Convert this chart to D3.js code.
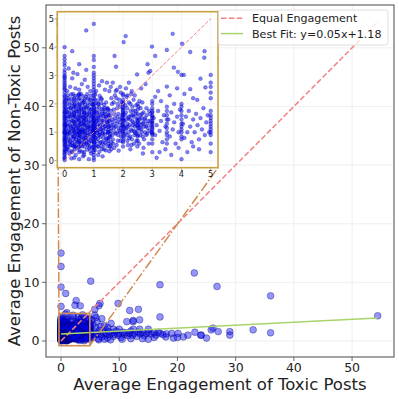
<!DOCTYPE html>
<html><head><meta charset="utf-8">
<script src="https://cdn.jsdelivr.net/npm/d3@7"></script>
<style>body{margin:0;background:#fff}svg{display:block}text{font-family:"DejaVu Sans",sans-serif;fill:#222}</style>
</head><body><svg id="c" width="399" height="399"></svg>
<script>
// ---- data (avg engagement: toxic x, non-toxic y) ----
const stripeX = [0, 0.33, 0.5, 0.67, 1, 1.5, 2, 2.5, 3, 3.5, 4, 5];
const stripeY = [
  [0.02,0.08,0.12,0.2,0.25,0.31,0.36,0.42,0.5,0.55,0.6,0.67,0.71,0.75,0.8,0.83,0.9,0.95,1,1,1.05,1.1,1.15,1.2,1.25,1.3,1.33,1.4,1.45,1.5,1.55,1.6,1.67,1.7,1.75,1.8,1.88,1.93,2,2.05,2.1,2.17,2.25,2.3,2.4,2.5,2.55,2.62,2.68,2.75,2.82,2.9,2.95,3.0,3.1,3.2,3.35,3.45,3.57,3.69,4.0,5.9,9.2,12.7,15.0],
  [0.1,0.5,0.85,1.0,1.2,1.35,1.55,1.7,1.95,2.2],
  [0.05,0.3,0.5,0.7,0.9,1.0,1.1,1.25,1.4,1.5,1.6,1.75,1.9,2.0,2.2,2.35,2.5,3.4],
  [0.2,0.6,0.9,1.05,1.3,1.5,1.67,1.85,2.1],
  [0.02,0.1,0.2,0.3,0.38,0.45,0.5,0.58,0.65,0.7,0.8,0.86,0.92,1,1,1.07,1.13,1.2,1.25,1.33,1.4,1.47,1.5,1.6,1.67,1.75,1.8,1.9,2,2.1,2.2,2.3,2.4,2.5,2.6,2.7,2.8,2.9,3.0,3.1,3.3,3.55,3.69,4.82],
  [0.6,0.8,1.0,1.2,1.4,1.6,1.8],
  [0.5,0.7,0.85,0.95,1,1.1,1.2,1.25,1.3,1.4,1.45,1.5,1.6,1.65,1.7,1.8,1.85,1.9,2.0,2.05,2.15,2.3],
  [0.7,0.9,1.05,1.2,1.35,1.5,1.65,1.8,2.0],
  [0.3,0.6,0.75,0.9,0.95,1.0,1.1,1.15,1.2,1.3,1.35,1.4,1.5,1.55,1.6,1.7,1.75,1.85,2.0,2.1],
  [0.6,0.75,0.9,1.0,1.15,1.3,1.45,1.6,1.75,1.9],
  [0.05,0.75,0.85,1.0,1.1,1.2,1.3,1.45,1.6,1.75,1.9,2.0,3.02],
  [0.3,0.6,0.9,1.0,1.1,1.2,1.3,1.4,1.5,1.6,1.75,2.2,2.4,2.6,2.75,3.02]
];
const cloudPts = [
  [0.08,0.42],[0.12,0.95],[0.15,1.55],[0.18,0.7],[0.2,1.2],[0.22,1.85],[0.25,0.3],[0.27,1.4],[0.3,0.85],[0.31,2.1],[0.33,1.05],[0.33,1.6],[0.33,0.55],[0.36,1.3],[0.38,0.2],[0.4,1.75],[0.42,0.95],[0.44,1.15],[0.45,2.3],[0.47,0.65],[0.1,1.7],[0.13,2.2],[0.17,1.02],[0.21,0.55],[0.24,1.62],[0.28,1.12],[0.35,1.9],[0.39,0.75],[0.43,1.45],[0.48,1.0],[0.06,1.25],[0.09,2.45],[0.19,2.6],[0.26,2.9],[0.3,3.1],[0.14,3.25],[0.37,2.55],[0.41,0.45],[0.23,0.08],[0.16,0.25],[0.44,3.05],[0.29,2.35],[0.26,3.86],
  [0.53,0.85],[0.55,1.3],[0.57,1.8],[0.6,0.5],[0.6,1.1],[0.62,1.55],[0.64,2.05],[0.66,0.75],[0.67,1.25],[0.67,1.7],[0.67,0.3],[0.7,1.0],[0.72,1.45],[0.73,2.25],[0.75,0.6],[0.77,1.15],[0.78,1.9],[0.8,0.9],[0.82,1.35],[0.84,0.45],[0.85,1.65],[0.87,1.05],[0.88,2.45],[0.9,0.7],[0.92,1.2],[0.94,1.55],[0.95,2.0],[0.97,0.95],[0.98,1.4],[0.56,2.35],[0.59,2.7],[0.63,0.15],[0.69,2.85],[0.74,3.2],[0.79,2.6],[0.83,0.05],[0.86,2.15],[0.91,0.25],[0.58,1.0],[0.71,0.8],[0.76,1.6],[0.81,1.2],[0.89,1.8],[0.96,1.1],[0.65,1.4],[0.54,0.6],[0.74,4.59],[0.8,8.1],
  [1.03,1.3],[1.05,0.8],[1.07,1.7],[1.1,1.05],[1.12,0.5],[1.13,1.5],[1.15,2.0],[1.17,0.9],[1.2,1.25],[1.22,1.6],[1.24,0.65],[1.25,2.2],[1.27,1.1],[1.3,1.4],[1.32,0.95],[1.33,1.8],[1.35,0.4],[1.37,1.2],[1.4,1.55],[1.42,2.05],[1.44,0.75],[1.46,1.35],[1.48,1.0],[1.08,2.45],[1.18,2.65],[1.28,2.8],[1.38,2.5],[1.45,2.75],[1.15,0.2],[1.3,0.15],[1.06,1.15],[1.21,1.0],[1.34,1.65],[1.47,1.85],[1.12,1.4],
  [1.52,1.2],[1.55,0.85],[1.57,1.6],[1.6,1.05],[1.62,2.0],[1.64,1.35],[1.66,0.6],[1.68,1.8],[1.7,1.15],[1.72,1.5],[1.75,0.95],[1.77,2.2],[1.8,1.3],[1.82,0.7],[1.84,1.65],[1.86,1.05],[1.88,1.45],[1.9,1.9],[1.93,0.85],[1.95,1.25],[1.97,1.6],[1.58,2.6],[1.65,2.75],[1.71,3.69],[1.76,3.31],[1.79,2.5],[1.85,0.35],[1.92,2.4],[1.6,0.4],[1.73,1.0],
  [2.04,1.4],[2.07,0.95],[2.1,1.7],[2.12,1.15],[2.15,0.7],[2.18,1.5],[2.2,2.05],[2.22,1.25],[2.25,0.85],[2.28,1.6],[2.3,1.05],[2.32,1.9],[2.35,1.35],[2.38,0.6],[2.4,1.2],[2.42,1.75],[2.45,0.95],[2.47,1.45],[2.1,2.55],[2.2,2.75],[2.3,2.45],[2.4,2.3],[2.25,0.4],[2.02,4.18],[2.09,4.39],[2.15,2.3],[2.37,1.55],[2.4,6.1],
  [2.55,1.3],[2.58,0.9],[2.6,1.6],[2.63,1.1],[2.66,2.05],[2.7,1.35],[2.72,0.75],[2.75,1.5],[2.78,1.2],[2.8,1.85],[2.83,0.95],[2.86,1.4],[2.9,1.05],[2.93,1.65],[2.96,1.25],[2.62,2.55],[2.7,0.45],[2.84,3.4],[2.93,3.16],[2.87,3.1],[2.48,3.04],[2.77,2.7],[2.68,0.25],[2.88,0.6],[2.6,6.9],
  [3.05,1.5],[3.1,0.9],[3.15,1.25],[3.2,1.75],[3.25,1.05],[3.3,1.4],[3.35,0.65],[3.4,1.6],[3.45,1.2],[3.55,1.45],[3.6,0.85],[3.65,1.7],[3.7,1.1],[3.75,1.35],[3.8,0.6],[3.85,1.55],[3.9,1.0],[3.95,1.8],[3.1,2.25],[3.2,2.45],[3.3,2.1],[3.6,2.3],[3.75,2.0],[3.85,2.55],[3.1,3.69],[2.99,4.02],[3.5,3.9],[3.7,4.47],[3.74,3.28],[3.88,3.13],[3.5,2.61],[3.25,0.3],[3.45,0.4],[3.65,0.2],[3.15,0.1],[3.9,0.45],[3.3,6.0],
  [4.05,1.3],[4.1,0.8],[4.15,1.55],[4.2,1.0],[4.25,1.75],[4.3,1.2],[4.35,0.65],[4.4,1.45],[4.45,1.0],[4.5,1.65],[4.55,1.25],[4.6,0.75],[4.65,1.5],[4.7,1.1],[4.75,1.85],[4.8,0.9],[4.85,1.35],[4.9,1.6],[4.95,1.0],[4.02,4.12],[4.3,3.83],[4.79,3.86],[4.78,3.63],[4.08,3.02],[4.65,2.89],[4.3,2.52],[4.54,2.14],[4.82,2.58],[4.4,2.2],[4.1,2.35],[4.6,0.4],[4.4,0.5],[4.2,0.3]
];
const denseCorePts = [
  [0.05,0.35],[0.14,0.38],[0.27,0.33],[0.36,0.4],[0.52,0.36],[0.61,0.31],[0.77,0.39],[0.88,0.34],[1.04,0.37],[1.19,0.32],[1.28,0.41],[1.41,0.36],[1.53,0.33],
  [0.04,0.52],[0.11,0.48],[0.19,0.55],[0.29,0.5],[0.38,0.53],[0.47,0.47],[0.56,0.54],[0.69,0.49],[0.79,0.56],[0.87,0.5],[0.95,0.47],[1.07,0.55],[1.16,0.49],[1.26,0.52],[1.36,0.56],[1.49,0.5],[1.58,0.53],
  [0.03,0.66],[0.1,0.63],[0.2,0.68],[0.26,0.62],[0.34,0.67],[0.44,0.64],[0.51,0.69],[0.59,0.63],[0.68,0.66],[0.76,0.7],[0.83,0.62],[0.93,0.68],[1.02,0.64],[1.1,0.69],[1.21,0.62],[1.31,0.67],[1.39,0.63],[1.5,0.69],[1.6,0.65],
  [0.06,0.8],[0.13,0.77],[0.22,0.83],[0.3,0.78],[0.4,0.82],[0.49,0.79],[0.57,0.84],[0.63,0.78],[0.73,0.81],[0.81,0.76],[0.89,0.83],[0.96,0.79],[1.06,0.82],[1.14,0.77],[1.23,0.84],[1.33,0.8],[1.43,0.78],[1.54,0.83],
  [0.04,0.95],[0.11,0.92],[0.18,0.98],[0.27,0.93],[0.35,0.97],[0.45,0.91],[0.53,0.96],[0.61,0.99],[0.7,0.93],[0.78,0.97],[0.86,0.92],[0.94,0.98],[1.03,0.94],[1.12,0.98],[1.19,0.91],[1.29,0.96],[1.38,0.92],[1.47,0.98],[1.57,0.94],
  [0.05,1.1],[0.14,1.07],[0.21,1.12],[0.3,1.08],[0.39,1.13],[0.46,1.06],[0.55,1.11],[0.63,1.07],[0.72,1.13],[0.8,1.08],[0.88,1.12],[0.97,1.06],[1.05,1.11],[1.14,1.08],[1.23,1.13],[1.32,1.07],[1.41,1.12],[1.5,1.08],[1.59,1.13],
  [0.03,1.25],[0.12,1.22],[0.19,1.27],[0.28,1.23],[0.37,1.28],[0.45,1.21],[0.54,1.26],[0.62,1.22],[0.71,1.28],[0.79,1.24],[0.87,1.21],[0.96,1.27],[1.04,1.23],[1.13,1.28],[1.22,1.21],[1.31,1.26],[1.39,1.22],[1.49,1.28],[1.58,1.24],
  [0.06,1.4],[0.15,1.37],[0.23,1.42],[0.31,1.38],[0.4,1.43],[0.49,1.36],[0.57,1.41],[0.65,1.37],[0.74,1.43],[0.83,1.39],[0.91,1.36],[0.99,1.42],[1.08,1.38],[1.17,1.43],[1.26,1.36],[1.35,1.41],[1.44,1.37],[1.53,1.42],
  [0.04,1.55],[0.12,1.52],[0.2,1.57],[0.29,1.53],[0.38,1.58],[0.47,1.51],[0.56,1.56],[0.64,1.52],[0.73,1.58],[0.81,1.54],[0.9,1.51],[0.98,1.57],[1.07,1.53],[1.16,1.58],[1.24,1.51],[1.34,1.56],[1.43,1.52],[1.52,1.57],
  [0.07,1.7],[0.16,1.67],[0.24,1.72],[0.33,1.68],[0.42,1.73],[0.5,1.66],[0.59,1.71],[0.68,1.67],[0.76,1.73],[0.85,1.69],[0.93,1.66],[1.02,1.72],[1.11,1.68],[1.2,1.73],[1.29,1.66],[1.38,1.71],[1.47,1.67],
  [0.05,1.85],[0.13,1.82],[0.21,1.87],[0.3,1.83],[0.39,1.88],[0.48,1.81],[0.57,1.86],[0.66,1.82],[0.74,1.88],[0.83,1.84],[0.92,1.81],[1.01,1.87],[1.1,1.83],[1.19,1.88],[1.28,1.81],[1.37,1.86],[1.46,1.82],
  [0.08,2.0],[0.17,1.97],[0.25,2.02],[0.34,1.98],[0.43,2.03],[0.52,1.96],[0.61,2.01],[0.7,1.97],[0.79,2.03],[0.88,1.99],[0.97,1.96],[1.06,2.02],[1.16,1.98],[1.26,2.03],[1.35,1.96],
  [0.06,2.15],[0.15,2.12],[0.24,2.18],[0.36,2.13],[0.47,2.17],[0.58,2.12],[0.69,2.16],[0.8,2.19],[0.91,2.13],[1.03,2.17],[1.14,2.12],[1.27,2.16],
  [0.1,2.3],[0.22,2.33],[0.35,2.28],[0.5,2.32],[0.63,2.27],[0.77,2.34],[0.9,2.29],[1.05,2.33],[1.2,2.28]
];
const midCloudPts = [
  [1.65,0.75],[1.74,1.2],[1.83,0.9],[1.9,1.35],[1.98,1.05],[1.7,1.65],[1.8,1.85],[1.95,1.5],[2.05,1.2],[2.13,0.9],[2.2,1.55],[2.27,1.1],[2.35,1.75],[2.43,1.3],[2.5,0.85],[2.57,1.45],[2.64,1.0],[2.7,1.7],[1.68,2.05],[1.87,2.15],[2.08,1.95],[2.25,2.0],[2.45,1.95],[2.6,1.85],[1.78,0.55],[2.0,0.65],[2.3,0.75],[2.55,0.6],[2.15,1.3],[2.38,1.05],[1.62,1.45],[1.93,1.15],[2.11,1.45],[2.33,1.25],[2.52,1.15],[2.68,1.3],
  [1.55,0.5],[1.63,0.9],[1.7,0.45],[1.76,1.4],[1.85,1.15],[1.91,0.7],[1.99,1.75],[2.03,0.8],[2.08,1.1],[2.14,1.85],[2.19,1.0],[2.24,1.45],[2.29,0.55],[2.34,1.6],[2.39,0.9],[2.44,1.65],[2.49,1.25],[2.53,1.9],[2.58,1.15],[2.63,1.5],[2.67,0.85],[2.72,1.2],[2.76,1.0],[2.81,1.6],[2.85,1.15],[1.58,1.75],[1.67,1.25],[1.72,2.3],[1.81,1.55],[1.89,1.0],[1.96,2.05],[2.06,1.6],[2.16,1.2],[2.21,0.8],[2.26,1.75],[2.31,1.4],[2.36,2.15],[2.41,1.0],[2.46,0.7],[2.51,1.4],[2.56,2.1],[2.61,1.25],[2.65,1.65],[2.74,1.45],[2.79,0.9],[2.83,1.3],[2.89,1.75],[2.94,1.4],[2.98,1.0],[1.6,2.2],[1.75,2.45],[1.9,2.6],[2.12,2.25],[2.28,2.35],[1.53,2.45],[1.82,2.0],[2.0,2.35],[2.17,0.55],[2.49,0.5]
];
const bandPts = [
  [5.3,1.2],[5.5,0.6],[5.7,1.6],[5.9,1.0],[6.0,2.2],[6.2,1.3],[6.4,0.4],[6.6,1.8],[6.8,1.1],[7.0,0.7],[7.2,1.5],[7.4,2.6],[7.6,1.0],[7.8,1.3],[8.0,0.5],[8.2,1.6],[8.4,1.1],[8.6,3.0],[8.8,1.4],[9.0,0.8],[9.2,1.2],[9.5,1.7],[9.8,1.0],[10.0,1.3],[10.3,0.6],[10.6,1.5],[10.9,1.1],[11.2,1.4],[11.5,0.9],[11.8,1.3],[12.0,1.7],[12.3,1.0],[12.6,1.3],[13.0,0.8],[13.3,1.5],[13.6,1.2],[14.0,1.4],[14.3,0.9],[14.7,1.3],[15.0,1.5],[15.0,0.3],[15.5,1.2],[16.0,1.4],[16.3,1.0],[16.7,1.5],[17.0,1.3],[17.5,1.1],[18.1,1.2],[19.0,1.3],[19.3,0.5],[20.1,1.3],[21.0,0.7],[21.8,1.0],[23.0,1.5],[24.1,1.0],[24.0,1.0],[25.0,0.5],[25.8,1.9],[26.1,2.2],[27.0,1.6],[29.0,1.6],[29.0,1.0],[33.0,1.9],[36.0,1.4],
  [5.5,2.8],[6.2,3.3],[7.0,3.8],[7.6,2.0],[6.8,2.5],[8.0,2.3],[5.3,3.6],[6.0,4.0],[9.0,2.0],[10.0,2.0],[12.4,2.0],[13.5,2.0],[15.0,2.0],[11.3,3.3],[12.4,3.5],[6.5,0.2],[7.5,0.3],[8.5,0.2],[10.5,0.3],[12.0,0.4],[14.0,0.4],[16.0,0.6],[18.0,0.7],[20.0,0.6]
];
const outlierPts = [
  [5.1,10.2],[6.5,6.0],[6.7,6.4],[5.8,5.4],[5.8,4.4],[9.8,6.4],[11.8,5.2],[13.3,5.4],[17.0,9.6],[17.0,4.1],[22.9,11.6],[26.8,9.3],[36.0,7.7],[54.4,4.3],[12.4,3.3],[13.5,3.6]
];
const fitSlope = 0.05, fitIntercept = 1.18;
const fitRange = [0, 54.4];
const equalRange = [0, 54.6];
const insetEqualRange = [0, 5];
const zoomBox = [-0.35, 4.95, -0.8, 4.7]; // x0,x1,y0,y1
const mainTicks = [0, 10, 20, 30, 40, 50];
const insetTicks = [0, 1, 2, 3, 4, 5];
const legendLabels = ["Equal Engagement", "Best Fit: y=0.05x+1.18"];
const xLabel = "Average Engagement of Toxic Posts";
const yLabel = "Average Engagement of Non-Toxic Posts";

// ---- build table ----
const pts = [];
stripeX.forEach((sx, i) => stripeY[i].forEach(v => pts.push([sx, v])));
cloudPts.concat(denseCorePts, midCloudPts, bandPts, outlierPts).forEach(p => pts.push(p));

const svg = d3.select("#c");
const x = d3.scaleLinear().domain([-2.58, 57.2]).range([46, 394]);
const y = d3.scaleLinear().domain([-2.73, 57.3]).range([357, 5]);
const RED = "#f48080", GREEN = "#a9d46c", BROWN = "#cf8c4f", GOLD = "#c9a040";

// main grid
const g = svg.append("g");
g.selectAll(".gx").data(mainTicks).join("line").attr("x1", d => x(d)).attr("x2", d => x(d)).attr("y1", 5).attr("y2", 357).attr("stroke", "#ebebeb").attr("stroke-width", 0.8);
g.selectAll(".gy").data(mainTicks).join("line").attr("y1", d => y(d)).attr("y2", d => y(d)).attr("x1", 46).attr("x2", 394).attr("stroke", "#ebebeb").attr("stroke-width", 0.8);

svg.append("clipPath").attr("id", "mclip").append("rect").attr("x", 46).attr("y", 5).attr("width", 348).attr("height", 352);
const mp = svg.append("g").attr("clip-path", "url(#mclip)");
mp.selectAll("circle").data(pts).join("circle")
  .attr("cx", d => x(d[0])).attr("cy", d => y(d[1])).attr("r", 3.4)
  .attr("fill", "rgba(0,0,255,0.42)").attr("stroke", "rgba(0,0,90,0.5)").attr("stroke-width", 0.7);

const line = d3.line().x(d => x(d[0])).y(d => y(d[1]));
mp.append("path").datum(equalRange.map(v => [v, v])).attr("d", line).attr("stroke", RED).attr("stroke-width", 1.5).attr("stroke-dasharray", "5.5,2.4").attr("fill", "none");
mp.append("path").datum(fitRange.map(v => [v, fitSlope * v + fitIntercept])).attr("d", line).attr("stroke", GREEN).attr("stroke-width", 1.5).attr("fill", "none");

// zoom box + connectors
mp.append("rect").attr("x", x(zoomBox[0])).attr("y", y(zoomBox[3])).attr("width", x(zoomBox[1]) - x(zoomBox[0])).attr("height", y(zoomBox[2]) - y(zoomBox[3]))
  .attr("fill", "none").attr("stroke", BROWN).attr("stroke-width", 1.6);

// inset scales
const ix = d3.scaleLinear().domain([-0.25, 5.25]).range([57.3, 218]);
const iy = d3.scaleLinear().domain([-0.25, 5.25]).range([167.7, 11.7]);
const conn = [[[zoomBox[0], zoomBox[3]], [ix.range()[0], iy.range()[1]]], [[zoomBox[1], zoomBox[2]], [ix.range()[1], iy.range()[0]]]];
mp.selectAll(".conn").data(conn).join("line")
  .attr("x1", d => x(d[0][0])).attr("y1", d => y(d[0][1])).attr("x2", d => d[1][0]).attr("y2", d => d[1][1])
  .attr("stroke", BROWN).attr("stroke-width", 1.5).attr("stroke-dasharray", "9.6,2.4,1.5,2.4");

// frame
svg.append("rect").attr("x", 46).attr("y", 5).attr("width", 348).attr("height", 352).attr("fill", "none").attr("stroke", "#666").attr("stroke-width", 1.2);
// main ticks
svg.selectAll(".xt").data(mainTicks).join("line").attr("x1", d => x(d)).attr("x2", d => x(d)).attr("y1", 357).attr("y2", 361).attr("stroke", "#666");
svg.selectAll(".yt").data(mainTicks).join("line").attr("y1", d => y(d)).attr("y2", d => y(d)).attr("x1", 42).attr("x2", 46).attr("stroke", "#666");
svg.selectAll(".xtl").data(mainTicks).join("text").attr("x", d => x(d)).attr("y", 372).attr("text-anchor", "middle").attr("font-size", 12.5).text(d => d);
svg.selectAll(".ytl").data(mainTicks).join("text").attr("x", 39.5).attr("y", d => y(d)).attr("dy", "0.36em").attr("text-anchor", "end").attr("font-size", 12.5).text(d => d);
svg.append("text").attr("x", 220).attr("y", 390).attr("text-anchor", "middle").attr("font-size", 16.5).text(xLabel);
svg.append("text").attr("transform", "translate(20,181) rotate(-90)").attr("text-anchor", "middle").attr("font-size", 16.5).text(yLabel);

// inset
const ins = svg.append("g");
ins.append("rect").attr("x", 57.3).attr("y", 11.7).attr("width", 218 - 57.3).attr("height", 167.7 - 11.7).attr("fill", "#fff");
ins.selectAll(".igx").data(insetTicks).join("line").attr("x1", d => ix(d)).attr("x2", d => ix(d)).attr("y1", 11.7).attr("y2", 167.7).attr("stroke", "#efefef").attr("stroke-width", 0.7);
ins.selectAll(".igy").data(insetTicks).join("line").attr("y1", d => iy(d)).attr("y2", d => iy(d)).attr("x1", 57.3).attr("x2", 218).attr("stroke", "#efefef").attr("stroke-width", 0.7);
svg.append("clipPath").attr("id", "iclip").append("rect").attr("x", 57.3).attr("y", 11.7).attr("width", 218 - 57.3).attr("height", 167.7 - 11.7);
const ip = ins.append("g").attr("clip-path", "url(#iclip)");
ip.selectAll("circle").data(pts.filter(d => d[0] <= 5.5 && d[1] <= 5.5)).join("circle")
  .attr("cx", d => ix(d[0])).attr("cy", d => iy(d[1])).attr("r", 1.9)
  .attr("fill", "rgba(0,0,255,0.5)").attr("stroke", "rgba(0,0,128,0.5)").attr("stroke-width", 0.5);
const iline = d3.line().x(d => ix(d[0])).y(d => iy(d[1]));
ip.append("path").datum(insetEqualRange.map(v => [v, v])).attr("d", iline).attr("stroke", RED).attr("stroke-width", 1).attr("stroke-dasharray", "3.7,1.6").attr("fill", "none");
ins.append("rect").attr("x", 57.3).attr("y", 11.7).attr("width", 218 - 57.3).attr("height", 167.7 - 11.7).attr("fill", "none").attr("stroke", GOLD).attr("stroke-width", 1.6);
ins.selectAll(".ixt").data(insetTicks).join("line").attr("x1", d => ix(d)).attr("x2", d => ix(d)).attr("y1", 168.5).attr("y2", 170.5).attr("stroke", "#666").attr("stroke-width", 0.6);
ins.selectAll(".iyt").data(insetTicks).join("line").attr("y1", d => iy(d)).attr("y2", d => iy(d)).attr("x1", 54.5).attr("x2", 56.5).attr("stroke", "#666").attr("stroke-width", 0.6);
ins.selectAll(".ixtl").data(insetTicks).join("text").attr("x", d => ix(d)).attr("y", 176.5).attr("text-anchor", "middle").attr("font-size", 8.3).text(d => d);
ins.selectAll(".iytl").data(insetTicks).join("text").attr("x", 54).attr("y", d => iy(d)).attr("dy", "0.36em").attr("text-anchor", "end").attr("font-size", 8.3).text(d => d);

// legend
const lg = svg.append("g");
lg.append("rect").attr("x", 218.5).attr("y", 10).attr("width", 169.5).attr("height", 35).attr("rx", 2.5).attr("fill", "rgba(255,255,255,0.8)").attr("stroke", "#d6d6d6").attr("stroke-width", 0.8);
const lrows = lg.selectAll(".lr").data(legendLabels).join("g").attr("transform", (d, i) => `translate(0,${18.3 + i * 15.3})`);
lrows.append("line").attr("x1", 221).attr("x2", 243).attr("y1", 0).attr("y2", 0)
  .attr("stroke", (d, i) => i === 0 ? RED : GREEN).attr("stroke-width", 1.5).attr("stroke-dasharray", (d, i) => i === 0 ? "5.5,2.4" : null);
lrows.append("text").attr("x", 252).attr("y", 0).attr("dy", "0.36em").attr("font-size", 11.1).text(d => d);
</script></body></html>
